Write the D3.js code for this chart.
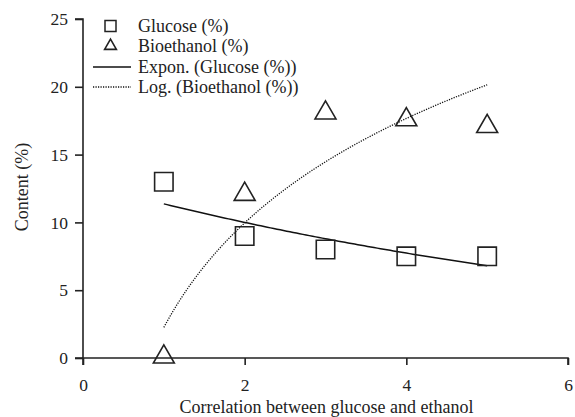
<!DOCTYPE html>
<html>
<head>
<meta charset="utf-8">
<script src="https://cdn.jsdelivr.net/npm/d3@7"></script>
<style>
  body { margin: 0; background: #fff; }
  svg text { font-family: "Liberation Serif", "Times New Roman", Times, "DejaVu Serif", serif !important; fill: #222; }
</style>
</head>
<body>
<svg width="575" height="417"></svg>
<script>
// data
const xValues = [1, 2, 3, 4, 5];
const glucose = [13, 9, 8, 7.5, 7.5];
const bioethanol = [0, 12, 18, 17.5, 17];
const xTicks = [0, 2, 4, 6];
const yTicks = [0, 5, 10, 15, 20, 25];
const legendLabels = ['Glucose (%)', 'Bioethanol (%)', 'Expon. (Glucose (%))', 'Log. (Bioethanol (%))'];

const svg = d3.select('svg');
const margin = { top: 19, right: 7, bottom: 59, left: 83 };
const width = +svg.attr('width');
const height = +svg.attr('height');
const innerWidth = width - margin.left - margin.right;
const innerHeight = height - margin.top - margin.bottom;

const xscale = d3.scaleLinear().domain([0, 6]).range([0, innerWidth]);
const yscale = d3.scaleLinear().domain([0, 25]).range([innerHeight, 0]);

const g = svg.append('g').attr('transform', `translate(${margin.left},${margin.top})`);

// least squares trend lines, like the spreadsheet does
function fit(xs, ys) {
  const mx = d3.mean(xs), my = d3.mean(ys);
  const b = d3.sum(xs, (x, i) => (x - mx) * (ys[i] - my)) / d3.sum(xs, x => (x - mx) ** 2);
  return { a: my - b * mx, b };
}
const expFit = fit(xValues, glucose.map(Math.log));
const logFit = fit(xValues.map(Math.log), bioethanol);
const steps = d3.range(0, 101).map(i => 1 + i * 0.04);
const expLine = steps.map(x => [x, Math.exp(expFit.a + expFit.b * x)]);
const logLine = steps.map(x => [x, logFit.a + logFit.b * Math.log(x)]);

// axes
const yAxis = g.append('g').call(d3.axisLeft(yscale).tickValues(yTicks).tickFormat(d3.format('d')).tickSize(8).tickPadding(7));
const xAxis = g.append('g').attr('transform', `translate(0,${innerHeight})`)
  .call(d3.axisBottom(xscale).tickValues(xTicks).tickFormat(d3.format('d')).tickSize(7).tickPadding(14));
[yAxis, xAxis].forEach(ax => {
  ax.attr('font-family', null);
  ax.select('.domain').attr('stroke', '#222').attr('stroke-width', 1.6);
  ax.selectAll('.tick line').attr('stroke', '#222').attr('stroke-width', 1.6);
  ax.selectAll('.tick text').style('font-size', '17.5px').attr('fill', '#222');
});
yAxis.select('.domain').attr('d', `M-8,${innerHeight}H0V0H-8`);
xAxis.select('.domain').attr('d', `M0,7V0H${innerWidth}V7`);

const line = d3.line().x(d => xscale(d[0])).y(d => yscale(d[1]));
g.append('path').datum(expLine).attr('d', line)
  .attr('fill', 'none').attr('stroke', '#111').attr('stroke-width', 1.5);
g.append('path').datum(logLine).attr('d', line)
  .attr('fill', 'none').attr('stroke', '#111').attr('stroke-width', 1.3).attr('stroke-dasharray', '1.2,1.3');

const square = d3.symbol().type(d3.symbolSquare).size(340);
const triangle = d3.symbol().type(d3.symbolTriangle).size(190);

g.selectAll('.sq').data(xValues).enter().append('path')
  .attr('class', 'sq')
  .attr('d', square)
  .attr('transform', (d, i) => `translate(${xscale(d)},${yscale(glucose[i])})`)
  .attr('fill', 'none').attr('stroke', '#222').attr('stroke-width', 1.6);

g.selectAll('.tri').data(xValues).enter().append('path')
  .attr('class', 'tri')
  .attr('d', triangle)
  .attr('transform', (d, i) => `translate(${xscale(d)},${yscale(bioethanol[i]) - 1})`)
  .attr('fill', 'none').attr('stroke', '#222').attr('stroke-width', 1.6);

// legend
const legend = svg.append('g');
const rowY = [26, 46, 67, 87];
legend.append('rect').attr('x', 105).attr('y', rowY[0] - 5.5).attr('width', 11).attr('height', 11)
  .attr('fill', 'none').attr('stroke', '#222').attr('stroke-width', 1.5);
legend.append('path').attr('d', d3.symbol().type(d3.symbolTriangle).size(60))
  .attr('transform', `translate(110.5,${rowY[1]})`)
  .attr('fill', 'none').attr('stroke', '#222').attr('stroke-width', 1.6);
legend.append('line').attr('x1', 93).attr('x2', 131).attr('y1', rowY[2]).attr('y2', rowY[2])
  .attr('stroke', '#111').attr('stroke-width', 1.4);
legend.append('line').attr('x1', 93).attr('x2', 131).attr('y1', rowY[3]).attr('y2', rowY[3])
  .attr('stroke', '#111').attr('stroke-width', 1.3).attr('stroke-dasharray', '1.2,1.3');
legend.selectAll('text').data(legendLabels).enter().append('text')
  .attr('x', 138).attr('y', (d, i) => rowY[i] + 6)
  .style('font-size', '18px')
  .text(d => d);

// axis titles
svg.append('text').attr('x', margin.left + innerWidth / 2 + 1).attr('y', 413)
  .attr('text-anchor', 'middle').style('font-size', '18px')
  .text('Correlation between glucose and ethanol');
svg.append('text').attr('transform', `translate(28,187) rotate(-90)`)
  .attr('text-anchor', 'middle').style('font-size', '18px')
  .text('Content (%)');
</script>
</body>
</html>
